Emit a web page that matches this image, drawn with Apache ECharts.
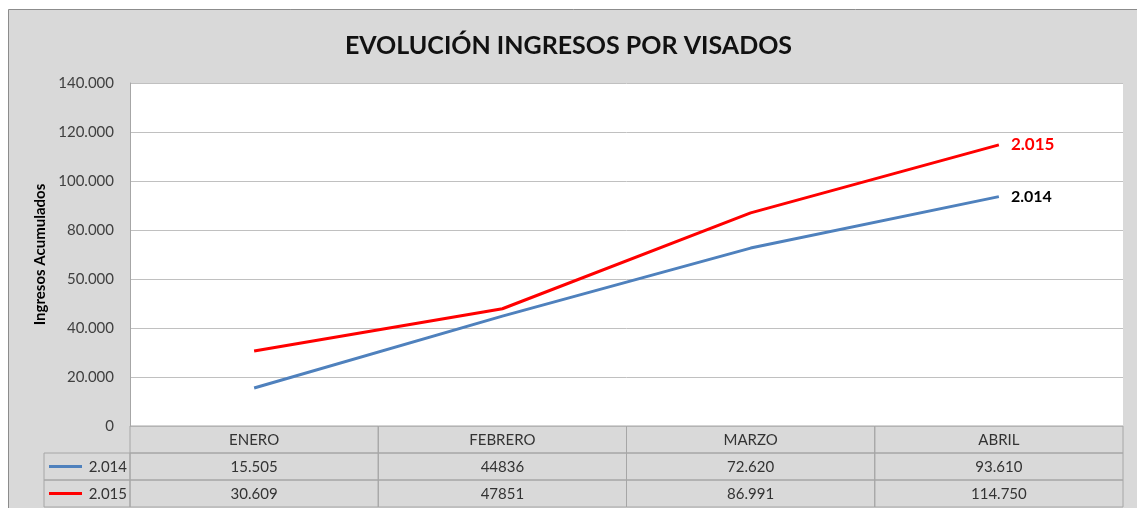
<!DOCTYPE html>
<html>
<head>
<meta charset="utf-8">
<script src="https://cdn.jsdelivr.net/npm/echarts@6/dist/echarts.min.js"></script>
<style>
  html, body { margin: 0; padding: 0; background: #fff; }
  #chart { width: 1137px; height: 508px; }
</style>
</head>
<body>
<div id="chart"></div>
<script>
const months = ['ENERO', 'FEBRERO', 'MARZO', 'ABRIL']
const seriesNames = ['2.014', '2.015']
const values2014 = [15505, 44836, 72620, 93610]
const values2015 = [30609, 47851, 86991, 114750]
// texto de la tabla tal como aparece en el original
const tableText2014 = ['15.505', '44836', '72.620', '93.610']
const tableText2015 = ['30.609', '47851', '86.991', '114.750']
const yTickLabels = ['0', '20.000', '40.000', '50.000', '80.000', '100.000', '120.000', '140.000']
const colors = ['#4f81bd', '#ff0000']

const FONT = 'Lato, "Open Sans", sans-serif'
const chart = echarts.init(document.getElementById('chart'))

const option = {
  backgroundColor: '#fff',
  animation: false,
  title: {
    text: 'EVOLUCIÓN INGRESOS POR VISADOS',
    left: 'center',
    top: 28,
    textStyle: { fontFamily: FONT, fontSize: 25, fontWeight: 'bold', color: '#111' }
  },
  grid: { left: 130, right: 14, top: 83, bottom: 82, show: true, backgroundColor: '#fff', borderWidth: 0 },
  xAxis: {
    type: 'category',
    data: months,
    boundaryGap: true,
    axisLine: { show: false },
    axisTick: { show: false },
    axisLabel: { show: false }
  },
  yAxis: {
    type: 'value',
    min: 0,
    max: 140000,
    interval: 20000,
    name: 'Ingresos Acumulados',
    nameLocation: 'middle',
    nameGap: 80,
    nameRotate: 90,
    nameTextStyle: { fontFamily: FONT, fontSize: 15, fontWeight: 'bold', color: '#000' },
    axisLine: { show: true, lineStyle: { color: '#a6a6a6', width: 1 } },
    axisTick: { show: false },
    axisLabel: {
      fontFamily: FONT, fontSize: 15, color: '#404040', margin: 16,
      formatter: (v) => yTickLabels[Math.round(v / 20000)]
    },
    splitLine: { lineStyle: { color: '#c0c0c0', width: 1 } }
  },
  series: [
    {
      name: seriesNames[0],
      type: 'line',
      data: values2014,
      symbol: 'none',
      lineStyle: { color: colors[0], width: 3 },
      itemStyle: { color: colors[0] },
      endLabel: {
        show: true, formatter: seriesNames[0], distance: 12,
        fontFamily: FONT, fontSize: 16, fontWeight: 'bold', color: '#000'
      }
    },
    {
      name: seriesNames[1],
      type: 'line',
      data: values2015,
      symbol: 'none',
      lineStyle: { color: colors[1], width: 3 },
      itemStyle: { color: colors[1] },
      endLabel: {
        show: true, formatter: seriesNames[1], distance: 12,
        fontFamily: FONT, fontSize: 17, fontWeight: 'bold', color: '#ff0000'
      }
    }
  ]
}
chart.setOption(option)

// tabla de datos bajo el gráfico, posiciones sacadas de los ejes
function buildTable() {
  const c0 = chart.convertToPixel({ xAxisIndex: 0 }, 0)
  const c1 = chart.convertToPixel({ xAxisIndex: 0 }, 1)
  const step = c1 - c0
  const x0 = c0 - step / 2
  const yBase = chart.convertToPixel({ yAxisIndex: 0 }, 0)
  const rowH = 27
  const legendLeft = 44
  const border = { stroke: '#a6a6a6', lineWidth: 1 }
  const txt = { fontFamily: FONT, fontSize: 15, fill: '#333', align: 'center', verticalAlign: 'middle' }
  const els = []

  // fondo gris exterior con borde
  els.push({ type: 'rect', z: -10, shape: { x: 8.5, y: 9.5, width: 1140, height: 510 },
    style: { fill: '#d9d9d9', stroke: '#8c8c8c', lineWidth: 1 } })

  const rows = [months, tableText2014, tableText2015]
  rows.forEach((row, r) => {
    const y = yBase + r * rowH
    row.forEach((t, i) => {
      const x = x0 + i * step
      els.push({ type: 'rect', shape: { x: x, y: y, width: step, height: rowH },
        style: Object.assign({ fill: 'none' }, border) })
      els.push({ type: 'text', x: x + step / 2, y: y + rowH / 2 + 1,
        style: Object.assign({ text: t }, txt) })
    })
    if (r > 0) {
      els.push({ type: 'rect', shape: { x: legendLeft, y: y, width: x0 - legendLeft, height: rowH },
        style: Object.assign({ fill: 'none' }, border) })
      els.push({ type: 'line', shape: { x1: legendLeft + 5, y1: y + rowH / 2, x2: legendLeft + 38, y2: y + rowH / 2 },
        style: { stroke: colors[r - 1], lineWidth: 3 } })
      els.push({ type: 'text', x: x0 - 3, y: y + rowH / 2 + 1,
        style: Object.assign({}, txt, { text: seriesNames[r - 1], align: 'right' }) })
    }
  })
  chart.setOption({ graphic: els })
}
buildTable()
</script>
</body>
</html>
